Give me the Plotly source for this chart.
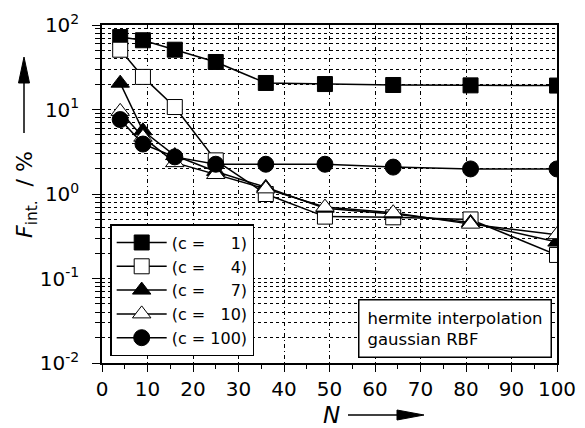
import plotly.graph_objects as go

N = [4, 9, 16, 25, 36, 49, 64, 81, 100]
f_c1 = [72, 66, 51, 36.5, 20.6, 20.0, 19.5, 19.3, 19.2]
f_c4 = [51, 24.3, 10.7, 2.5, 1.0, 0.54, 0.53, 0.5, 0.19]
f_c7 = [20.5, 5.6, 2.85, 1.85, 1.2, 0.68, 0.58, 0.46, 0.27]
f_c10 = [9.5, 4.7, 2.35, 1.7, 1.15, 0.7, 0.6, 0.44, 0.33]
f_c100 = [7.6, 3.9, 2.75, 2.25, 2.25, 2.25, 2.08, 1.98, 1.98]

nb = "\u00a0"
labels = [
    "(c =" + nb * 5 + "1)",
    "(c =" + nb * 5 + "4)",
    "(c =" + nb * 5 + "7)",
    "(c =" + nb * 3 + "10)",
    "(c = 100)",
]
series = [f_c1, f_c4, f_c7, f_c10, f_c100]
symbols = ["square", "square", "triangle-up", "triangle-up", "circle"]
fills = ["black", "white", "black", "white", "black"]
sizes = [15, 15, 16, 16, 16]

ytickvals = [0.01, 0.1, 1, 10, 100]
yticktext = ["10<sup>-2</sup>", "10<sup>-1</sup>", "10<sup>0</sup>", "10<sup>1</sup>", "10<sup>2</sup>"]
yminor = [m * d for d in [0.01, 0.1, 1, 10] for m in range(2, 10)]
xtickvals = list(range(0, 101, 10))
xminor = list(range(5, 100, 10))

fig = go.Figure()
for ys, lab, sym, fc, sz in zip(series, labels, symbols, fills, sizes):
    fig.add_trace(go.Scatter(
        x=N, y=ys, name=lab, mode="lines+markers",
        line=dict(color="black", width=1.5),
        marker=dict(symbol=sym, size=sz, color=fc, line=dict(color="black", width=1)),
    ))

font = "DejaVu Sans, Liberation Sans, sans-serif"
hdash = "3px,3px"
vdash = "4px,3px,1px,3px"
fig.update_layout(
    width=577, height=420,
    margin=dict(l=94, r=28, t=17, b=65, autoexpand=False),
    paper_bgcolor="white", plot_bgcolor="white",
    font=dict(family=font, size=16, color="black"),
    showlegend=True,
    legend=dict(
        x=0.018, y=0.411, xanchor="left", yanchor="top",
        bgcolor="white", bordercolor="black", borderwidth=1.5,
        font=dict(size=16), tracegroupgap=0, itemwidth=50,
    ),
    xaxis=dict(
        range=[0, 100], tickvals=xtickvals, showline=True, linecolor="black", linewidth=1.5,
        mirror=True, ticks="outside", ticklen=7, tickwidth=1.2, tickcolor="black",
        showgrid=True, gridcolor="black", griddash=vdash, gridwidth=1,
        minor=dict(tickvals=xminor, ticks="outside", ticklen=4, tickcolor="black", showgrid=False),
        tickfont=dict(size=20), zeroline=False, automargin=False,
    ),
    yaxis=dict(
        type="log", range=[-2, 2], tickvals=ytickvals, ticktext=yticktext,
        showline=True, linecolor="black", linewidth=1.5, mirror=True,
        ticks="outside", ticklen=8, tickwidth=1.2, tickcolor="black",
        showgrid=True, gridcolor="black", griddash=hdash, gridwidth=1,
        minor=dict(tickvals=yminor, ticks="outside", ticklen=5, tickcolor="black", showgrid=True,
                   gridcolor="black", griddash=hdash, gridwidth=1),
        tickfont=dict(size=20), zeroline=False, automargin=False, ticklabelstandoff=9,
    ),
)

fig.add_annotation(
    xref="paper", yref="paper", x=0.99, y=0.015, xanchor="right", yanchor="bottom",
    text="hermite interpolation<br>gaussian RBF", align="left", showarrow=False,
    font=dict(size=16.5), bgcolor="white", bordercolor="black", borderwidth=1.5, borderpad=8,
)


def px(v):
    return (v - 102) / 455


def py(v):
    return (363 - v) / 338


# x-axis title with arrow
fig.add_annotation(xref="paper", yref="paper", x=px(331), y=py(415),
                   text="<i>N</i>", showarrow=False, font=dict(size=23),
                   xanchor="center", yanchor="middle")
fig.add_shape(type="line", xref="paper", yref="paper", x0=px(348), x1=px(400),
              y0=py(415), y1=py(415), line=dict(color="black", width=1.5))
fig.add_shape(type="path", xref="paper", yref="paper",
              path=f"M {px(397)} {py(410)} L {px(424)} {py(415)} L {px(397)} {py(420)} Z",
              fillcolor="black", line=dict(color="black", width=1))
# y-axis title with arrow
fig.add_annotation(xref="paper", yref="paper", x=px(26), y=py(195),
                   text="<i>F</i><sub>int.</sub>  / %", textangle=-90, showarrow=False,
                   font=dict(size=22), xanchor="center", yanchor="middle")
fig.add_shape(type="line", xref="paper", yref="paper", x0=px(24), x1=px(24),
              y0=py(133), y1=py(80), line=dict(color="black", width=1.5))
fig.add_shape(type="path", xref="paper", yref="paper",
              path=f"M {px(18.5)} {py(83)} L {px(24)} {py(57)} L {px(29.5)} {py(83)} Z",
              fillcolor="black", line=dict(color="black", width=1))

fig.write_html("out.html")
